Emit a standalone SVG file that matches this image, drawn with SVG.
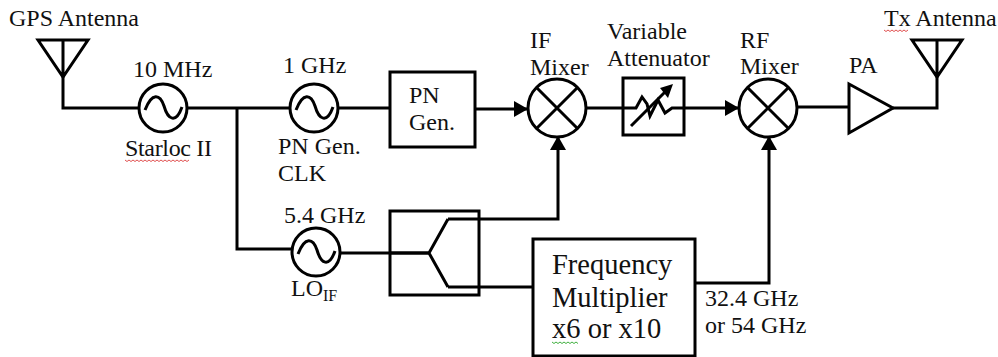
<svg xmlns="http://www.w3.org/2000/svg" width="998" height="357" viewBox="0 0 998 357">
<style>
.s{fill:none;stroke:#000;stroke-width:3;stroke-linejoin:miter}
.c{fill:#fff;stroke:#000;stroke-width:3}
.t{font-family:"Liberation Serif","Times New Roman",serif;font-size:24px;fill:#111}
.b{font-size:28.500px}
.w{fill:none;stroke-width:1}
</style>
<defs>
<marker id="a" markerUnits="userSpaceOnUse" markerWidth="14" markerHeight="16" refX="13" refY="8" orient="auto"><path d="M0 0L14 8L0 16Z" fill="#000"/></marker>
</defs>
<rect width="998" height="357" fill="#fff"/>
<g id="connectors">
<path class="s" d="M63 77V108H139"/>
<path class="s" d="M188 108H290"/>
<path class="s" d="M237 108V249H292"/>
<path class="s" d="M339 108H390"/>
<path class="s" d="M475 109H527" marker-end="url(#a)"/>
<path class="s" d="M587 108H636"/>
<path class="s" d="M672 108H738" marker-end="url(#a)"/>
<path class="s" d="M798 107H849"/>
<path class="s" d="M893 108H937V77"/>
<path class="s" d="M341 253H429"/>
<path class="s" d="M448 219H558V137" marker-end="url(#a)"/>
<path class="s" d="M448 287H533"/>
<path class="s" d="M695 283H769V137" marker-end="url(#a)"/>
</g>
<g id="gps-antenna">
<path class="s" d="M38 40H88L63 77ZM63 40V77"/>
<text class="t" x="9" y="26">GPS Antenna</text>
</g>
<g id="osc-10mhz">
<circle class="c" cx="163" cy="108" r="24"/>
<path class="s" d="M145 110C152 92 160 94 164 106C168 120 176 124 182 107"/>
<text class="t" x="133" y="77">10 MHz</text>
<text class="t" x="125" y="156" textLength="87">Starloc II</text>
<path class="w" stroke="#e05050" d="M125 160l2 1.500l2-1.500l2 1.500l2-1.500l2 1.500l2-1.500l2 1.500l2-1.500l2 1.500l2-1.500l2 1.500l2-1.500l2 1.500l2-1.500l2 1.500l2-1.500l2 1.500l2-1.500l2 1.500l2-1.500l2 1.500l2-1.500l2 1.500l2-1.500l2 1.500l2-1.500l2 1.500l2-1.500l2 1.500l2-1.500l2 1.500l2-1.500"/>
</g>
<g id="osc-1ghz">
<circle class="c" cx="314" cy="108" r="24"/>
<path class="s" d="M296 110C303 92 311 94 315 106C319 120 327 124 333 107"/>
<text class="t" x="283" y="73">1 GHz</text>
<text class="t" x="278" y="154">PN Gen.</text>
<text class="t" x="278" y="181">CLK</text>
</g>
<g id="pn-gen">
<rect class="c" x="390" y="72" width="85" height="75"/>
<text class="t" x="409" y="103">PN</text>
<text class="t" x="409" y="130">Gen.</text>
</g>
<g id="if-mixer">
<circle class="c" cx="557" cy="108" r="29"/>
<path class="s" d="M537 88L577 128M577 88L537 128"/>
<text class="t" x="530" y="48">IF</text>
<text class="t" x="530" y="75">Mixer</text>
</g>
<g id="attenuator">
<rect class="c" x="623" y="78" width="61" height="57"/>
<path class="s" d="M623 108H636L642 97L647 104L650 116L658 100L665 113L672 108H684"/>
<path class="s" d="M631 126L666 91"/>
<path d="M673 84L660 88L668 98Z" fill="#000"/>
<text class="t" x="607" y="39">Variable</text>
<text class="t" x="607" y="66">Attenuator</text>
</g>
<g id="rf-mixer">
<circle class="c" cx="768" cy="108" r="29"/>
<path class="s" d="M748 88L788 128M788 88L748 128"/>
<text class="t" x="740" y="48">RF</text>
<text class="t" x="740" y="74">Mixer</text>
</g>
<g id="pa">
<path class="c" d="M849 84L893 108L849 133Z"/>
<text class="t" x="849" y="73">PA</text>
</g>
<g id="tx-antenna">
<path class="s" d="M912 40H962L937 77ZM937 40V77"/>
<text class="t" x="884" y="26">Tx Antenna</text>
<path class="w" stroke="#e05050" d="M884 30l2 1.500l2-1.500l2 1.500l2-1.500l2 1.500l2-1.500l2 1.500l2-1.500l2 1.500l2-1.500l2 1.500l2-1.500"/>
</g>
<g id="osc-5-4ghz">
<circle class="c" cx="316" cy="252" r="24"/>
<path class="s" d="M298 254C305 236 313 238 317 250C321 264 329 268 335 251"/>
<text class="t" x="284" y="223">5.4 GHz</text>
<text class="t" x="291" y="296">LO<tspan font-size="16" dy="5">IF</tspan></text>
</g>
<g id="splitter">
<rect x="390" y="211" width="89" height="84" class="s"/>
<path class="s" d="M390 253H429M448 219L429 253L448 287"/>
</g>
<g id="freq-mult">
<rect class="c" x="533" y="239" width="162" height="117"/>
<text class="t b" x="552" y="274">Frequency</text>
<text class="t b" x="552" y="307">Multiplier</text>
<text class="t b" x="552" y="338">x6 or x10</text>
<path class="w" stroke="#40b040" d="M552 342l2 1.500l2-1.500l2 1.500l2-1.500l2 1.500l2-1.500l2 1.500l2-1.500l2 1.500l2-1.500l2 1.500l2-1.500l2 1.500"/>
<text class="t" x="705" y="306">32.4 GHz</text>
<text class="t" x="705" y="333">or 54 GHz</text>
</g>
</svg>
